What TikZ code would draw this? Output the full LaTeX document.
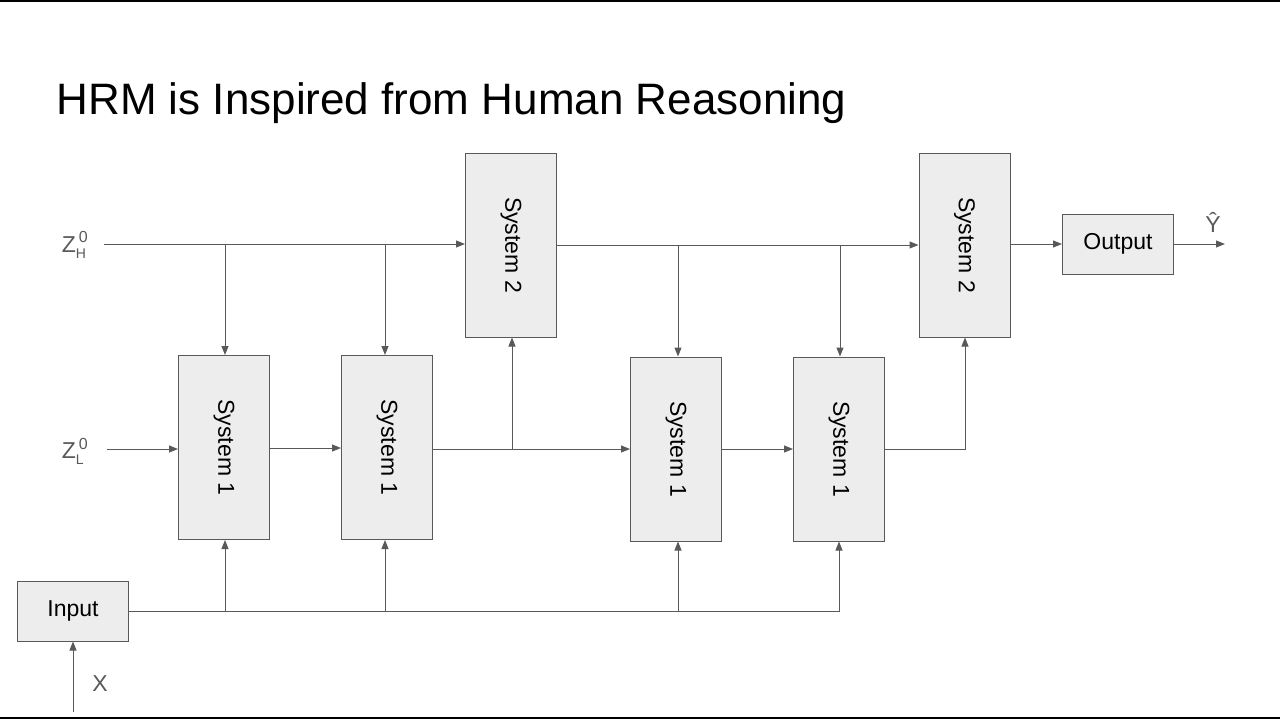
\documentclass[tikz,border=0pt]{standalone}
\usepackage{fontspec}
\setmainfont{Liberation Sans}
\usetikzlibrary{arrows.meta}
\begin{document}
\begin{tikzpicture}[x=1pt,y=-1pt,
  box/.style={draw=black!65,fill=black!7,line width=1pt,minimum width=91pt,minimum height=184pt,inner sep=0pt,font=\fontsize{23}{26}\selectfont},
  sbox/.style={draw=black!65,fill=black!7,line width=1pt,minimum width=111pt,minimum height=60pt,inner sep=0pt,font=\fontsize{23}{26}\selectfont},
  ar/.style={draw=black!65,line width=1pt,-{Triangle[length=9pt,width=7pt]}},
  ln/.style={draw=black!65,line width=1pt},
  lab/.style={text=black!65,font=\fontsize{23}{26}\selectfont}]
\useasboundingbox (0,0) rectangle (1280,720);
\draw[line width=1.5pt] (0,1) -- (1280,1);
\draw[line width=1.5pt] (0,718) -- (1280,718);
\node[anchor=west,font=\fontsize{44}{50}\selectfont] (title) at (53,103) {HRM is Inspired from Human Reasoning};
\node[box] (s2a) at (511,245) {\rotatebox{-90}{System 2}};
\node[box] (s2b) at (964.5,245) {\rotatebox{-90}{System 2}};
\node[box] (s1a) at (224,447.5) {\rotatebox{-90}{System 1}};
\node[box] (s1b) at (387,447.5) {\rotatebox{-90}{System 1}};
\node[box] (s1c) at (676,449) {\rotatebox{-90}{System 1}};
\node[box] (s1d) at (839,449) {\rotatebox{-90}{System 1}};
\node[sbox] (out) at (1118,244) {Output};
\node[sbox] (in) at (73,611) {Input};
\node[lab] (zh) at (75,245) {Z$_{\mbox{\fontsize{14}{14}\selectfont H}}^{\,\mbox{\fontsize{16}{16}\selectfont 0}}$};
\node[lab] (zl) at (75,451) {Z$_{\mbox{\fontsize{14}{14}\selectfont L}}^{\,\mbox{\fontsize{16}{16}\selectfont 0}}$};
\node[lab] (x) at (100,684) {X};
\node[lab] (yh) at (1213,222) {\^{Y}};
\coordinate (zhe) at (104,244);
\coordinate (zle) at (107,449);
\coordinate (xe) at (73,712);
\coordinate (ye) at (1225,244);
% H line
\draw[ar] (zhe) -- (s2a.west |- zhe);
\draw[ar] (225,244) -- (s1a.north -| 225,0);
\draw[ar] (385,244) -- (s1b.north -| 385,0);
\draw[ar] (s2a.east) -- (s2b.west);
\draw[ar] (678,245) -- (s1c.north -| 678,0);
\draw[ar] (840,245) -- (s1d.north -| 840,0);
\draw[ar] (s2b.east |- out) -- (out.west);
\draw[ar] (out.east) -- (ye);
% L line
\draw[ar] (zle) -- (s1a.west |- zle);
\draw[ar] (s1a.east |- 0,448) -- (s1b.west |- 0,448);
\draw[ar] (s1b.east |- 0,449) -- (s1c.west |- 0,449);
\draw[ar] (512,449) -- (s2a.south -| 512,0);
\draw[ar] (s1c.east) -- (s1d.west);
\draw[ar] (s1d.east) -- (965,449) -- (s2b.south -| 965,0);
% input
\draw[ar] (in.east) -- (839,611) -- (s1d.south);
\draw[ar] (225,611) -- (s1a.south -| 225,0);
\draw[ar] (385,611) -- (s1b.south -| 385,0);
\draw[ar] (678,611) -- (s1c.south -| 678,0);
\draw[ar] (xe) -- (in.south);
\end{tikzpicture}
\end{document}
